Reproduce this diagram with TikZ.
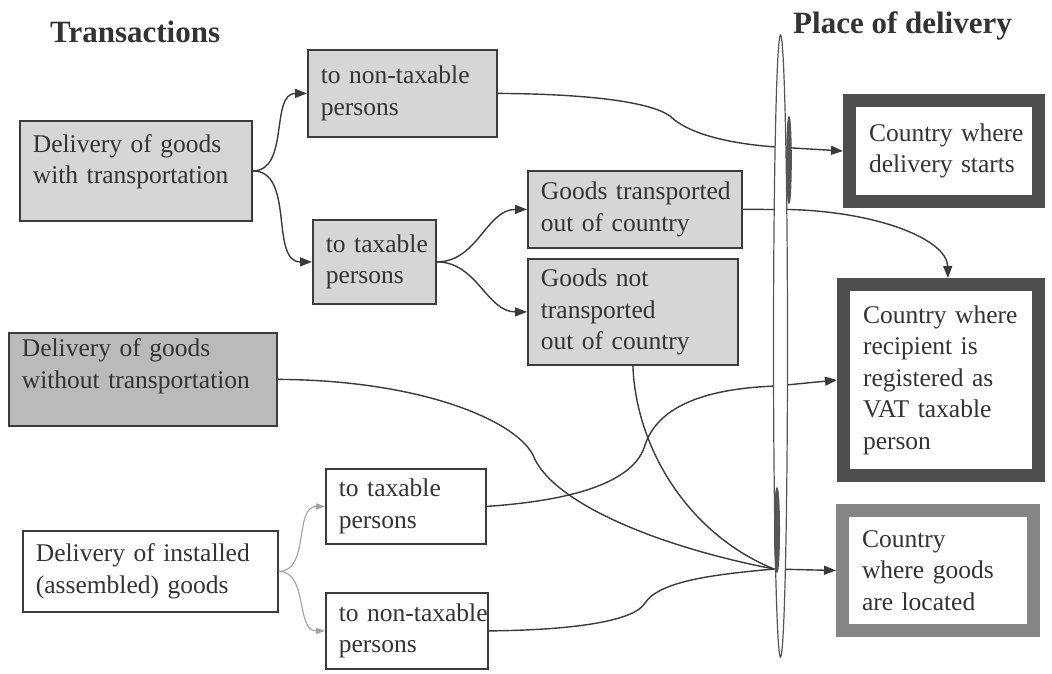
\documentclass[tikz,border=0pt]{standalone}
\usepackage{fontspec}
\setmainfont{Liberation Serif}
\usetikzlibrary{arrows.meta}
\definecolor{txtc}{HTML}{333333}
\definecolor{boxc}{HTML}{3C3C3C}
\definecolor{fillA}{HTML}{D6D6D6}
\definecolor{fillB}{HTML}{BABABA}
\definecolor{linec}{HTML}{3A3A3A}
\definecolor{lightc}{HTML}{A0A0A0}
\definecolor{thickA}{HTML}{4E4E4E}
\definecolor{thickB}{HTML}{858585}
\definecolor{sepc}{HTML}{555555}
\newcommand{\nb}[1]{\mbox{#1}}
\begin{document}
\begin{tikzpicture}[x=1pt,y=-1pt,
  bodytext/.style={font=\fontsize{25.5}{31.5}\selectfont, text=txtc},
  head/.style={font=\fontsize{31}{36}\selectfont\bfseries, text=txtc, anchor=base west, inner sep=0pt},
  box/.style={bodytext, draw=boxc, line width=1.8pt, anchor=north west, align=left, inner xsep=13pt, inner ysep=0pt},
  shadeA/.style={fill=fillA},
  shadeB/.style={fill=fillB},
  plain/.style={fill=white},
  target/.style={bodytext, line width=13pt, outer sep=6.5pt, fill=white, anchor=north west, align=left, inner xsep=19.5pt, inner ysep=0pt},
  conn/.style={draw=linec, line width=1.4pt},
  tip/.style={-{Triangle[length=12pt,width=9pt]}},
  faint/.style={draw=lightc, line width=1.1pt, -{Triangle[length=9pt,width=6pt]}},
  sepline/.style={draw=sepc, line width=1.2pt},
]
\useasboundingbox (0,0) rectangle (1052,673);

% headings
\node[head] (h1) at (50,42) {Transactions};
\node[head] (h2) at (793,33) {Place of delivery};

% left boxes
\node[box, shadeA, text width=206pt, minimum height=100pt] (dwt) at (19,120)
  {\nb{Delivery of goods}\\\nb{with transportation}\\[-8pt]\nb{}};
\node[box, shadeA, text width=163pt, minimum height=87pt] (ntp1) at (307,49)
  {\nb{to non-taxable}\\\nb{persons}};
\node[box, shadeA, text width=97pt, minimum height=84pt] (tp1) at (312,219)
  {\nb{to taxable}\\\nb{persons}};
\node[box, shadeA, text width=188pt, minimum height=77pt] (gt) at (527,170)
  {\nb{Goods transported}\\\nb{out of country}};
\node[box, shadeA, text width=184pt, minimum height=106pt] (gnt) at (527,258)
  {\nb{Goods not}\\\nb{transported}\\\nb{out of country}};
\node[box, shadeB, text width=242pt, minimum height=93pt] (dwo) at (8,332)
  {\nb{Delivery of goods}\\\nb{without transportation}\\[0pt]\nb{}};
\node[box, plain, text width=134pt, minimum height=75pt] (tp2) at (325,468)
  {\nb{to taxable}\\\nb{persons}};
\node[box, plain, text width=229pt, minimum height=81pt] (dig) at (22,530)
  {\nb{Delivery of installed}\\\nb{(assembled) goods}};
\node[box, plain, text width=136pt, minimum height=76pt] (ntp2) at (325,592)
  {\nb{to non-taxable}\\\nb{persons}};

% right boxes
\node[target, draw=thickA, text width=150pt, minimum height=101pt] (cds) at (843,94)
  {\nb{Country where}\\\nb{delivery starts}};
\node[target, draw=thickA, text width=156pt, minimum height=191pt] (crr) at (837,278)
  {\nb{Country where}\\\nb{recipient is}\\\nb{registered as}\\\nb{VAT taxable}\\\nb{person}};
\node[target, draw=thickB, text width=152pt, minimum height=120pt] (cgl) at (836,504)
  {\nb{Country}\\\nb{where goods}\\\nb{are located}};

\coordinate (join) at (774,569);

% branches
\draw[conn,tip] (dwt.east) to[out=0,in=180] (ntp1.west);
\draw[conn,tip] (dwt.east) to[out=0,in=180] (tp1.west);
\draw[conn,tip] (tp1.east) to[out=0,in=180] (gt.west);
\draw[conn,tip] (tp1.east) to[out=0,in=180] (gnt.west);
\draw[faint] (dig.east) to[out=0,in=180] (tp2.west);
\draw[faint] (dig.east) to[out=0,in=180] (ntp2.west);

% long connectors
\draw[conn,tip] (ntp1.east) .. controls (590,94) and (650,102) .. (670,116)
  .. controls (685,131) and (720,143) .. (776,147) -- (cds.west);
\draw[conn,tip] (gt.east) -- (790,209.5) .. controls (880,212) and (947,240) .. ([xshift=7pt]crr.north);
\draw[conn,tip] (tp2.east) .. controls (580,500) and (635,480) .. (645,445)
  .. controls (660,400) and (720,388) .. (776,386) -- (crr.west);
\draw[conn] (dwo.east) .. controls (420,380) and (515,420) .. (533,455)
  .. controls (550,500) and (650,545) .. (join);
\draw[conn] (gnt.south) .. controls (636,450) and (690,535) .. (join);
\draw[conn] (ntp2.east) .. controls (580,630) and (635,620) .. (645,603)
  .. controls (660,580) and (720,574) .. (join);
\draw[conn,tip] (join) -- (cgl.west);

% separator
\draw[sepline, fill=white] (780.5,346) ellipse [x radius=7pt, y radius=311pt];
\draw[sepline, fill=sepc] (789,160) ellipse [x radius=2.2pt, y radius=43pt];
\draw[sepline, fill=sepc] (777,530) ellipse [x radius=2.4pt, y radius=42pt];
\end{tikzpicture}
\end{document}
